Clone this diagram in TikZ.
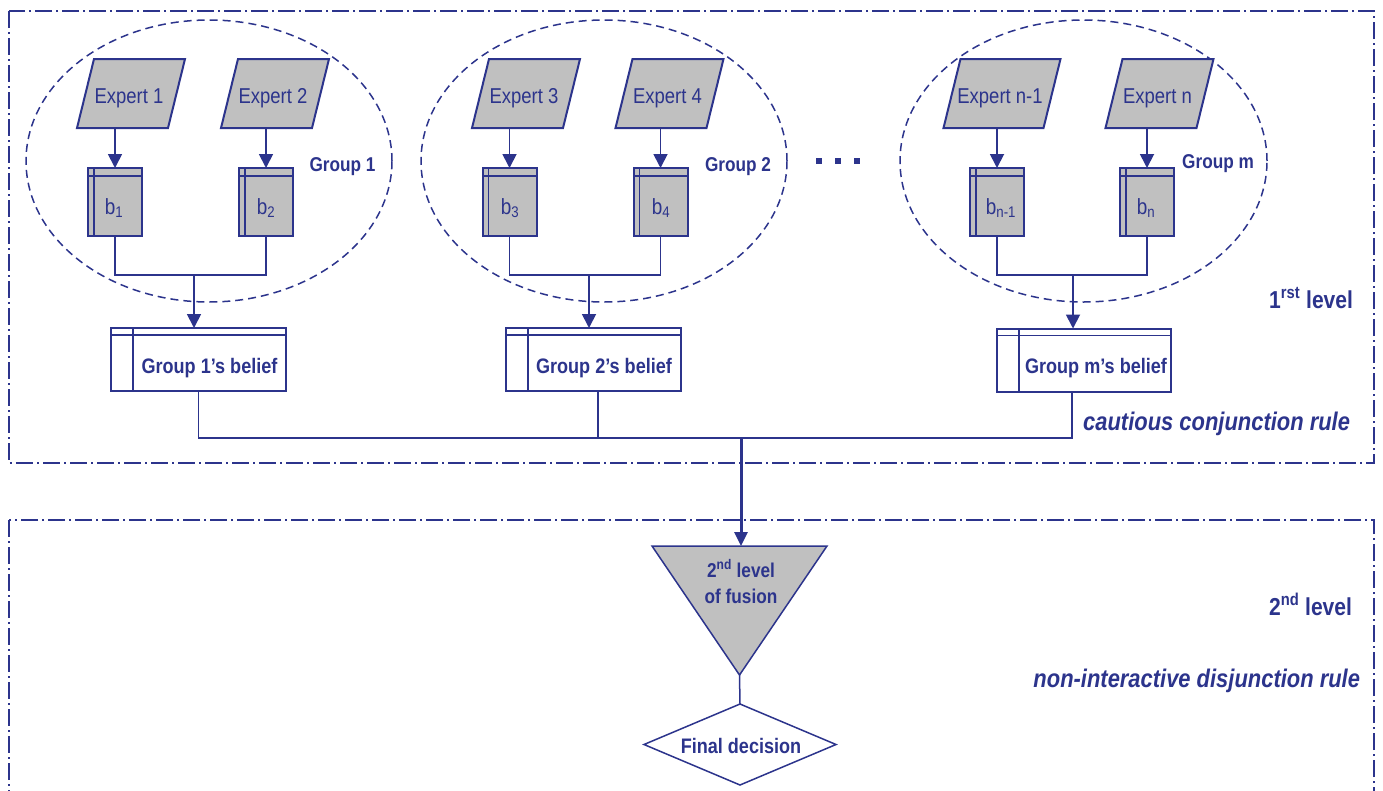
\documentclass[tikz,border=0pt]{standalone}
\usepackage{fontspec}
\setmainfont{Liberation Sans}[FakeStretch=0.86]
\usetikzlibrary{arrows.meta,calc,shapes.geometric}
\definecolor{nv}{RGB}{44,52,140}
\definecolor{gf}{RGB}{192,192,192}
\begin{document}
\begin{tikzpicture}[x=1pt,y=-1pt,
  every node/.style={inner sep=0pt,outer sep=0pt},
  ln/.style={draw=nv,line width=1.8pt},
  arr/.style={ln,-{Triangle[length=14pt,width=14pt]}},
  frame/.style={draw=nv,line width=1.5pt,dash pattern=on 17pt off 4pt on 2pt off 4pt},
  grp/.style={draw=nv,line width=1.5pt,dash pattern=on 8pt off 5pt,ellipse,minimum width=366pt,minimum height=282pt},
  expbox/.style={minimum width=#1,minimum height=69pt},
  expfill/.style={fill=gf,draw=nv,line width=2pt},
  bbox/.style={draw=nv,fill=gf,line width=2pt,minimum width=54pt,minimum height=68pt,
    path picture={\draw[nv,line width=1.2pt] ([xshift=6pt]path picture bounding box.north west) -- ([xshift=6pt]path picture bounding box.south west);
                  \draw[nv,line width=1.2pt] ([yshift=-8pt]path picture bounding box.north west) -- ([yshift=-8pt]path picture bounding box.north east);}},
  belbox/.style={draw=nv,fill=white,line width=2pt,minimum width=175pt,minimum height=63pt,
    path picture={\draw[nv,line width=1.5pt] ([xshift=22pt]path picture bounding box.north west) -- ([xshift=22pt]path picture bounding box.south west);
                  \draw[nv,line width=1.5pt] ([yshift=-7pt]path picture bounding box.north west) -- ([yshift=-7pt]path picture bounding box.north east);}},
  txt/.style={text=nv,font=\fontsize{21.5}{24}\selectfont},
  btxt/.style={text=nv,font=\fontsize{22}{24}\selectfont},
  gtxt/.style={text=nv,font=\fontsize{20}{24}\selectfont\bfseries},
  beltxt/.style={text=nv,font=\fontsize{21}{24}\selectfont\bfseries},
  lvltxt/.style={text=nv,font=\fontsize{24.5}{28}\selectfont\bfseries},
  ruletxt/.style={text=nv,font=\fontsize{25.5}{30}\selectfont\bfseries\itshape}]
\useasboundingbox (0,0) rectangle (1383,790);
\clip (0,0) rectangle (1383,790);

% frames
\draw[frame] (9,11) rectangle (1374,463);
\draw[frame] (9,520) rectangle (1374,830);

% group ellipses
\node[grp] (G1) at (209,161) {};
\node[grp] (G2) at (604,161) {};
\node[grp,minimum width=367pt] (Gm) at (1083.5,161) {};

% experts
\foreach \n/\x/\w/\t in {e1/131/91/Expert 1,e2/275/91/Expert 2,e3/526/91/Expert 3,e4/669.5/91/Expert 4,en1/1002/100/Expert n-1,en/1159.5/91/Expert n}{
  \node[expbox=\w pt] (\n) at (\x,93.5) {};
  \filldraw[expfill] ([xshift=8.5pt]\n.north west) -- ([xshift=8.5pt]\n.north east) -- ([xshift=-8.5pt]\n.south east) -- ([xshift=-8.5pt]\n.south west) -- cycle;
  \node[txt,anchor=base] at (\x-2,103) {\t};
}

% belief boxes b
\node[bbox] (b1) at (115,202) {};
\node[bbox] (b2) at (266,202) {};
\node[bbox] (b3) at (509.5,202) {};
\node[bbox] (b4) at (660.5,202) {};
\node[bbox] (bn1) at (997,202) {};
\node[bbox] (bn) at (1147,202) {};
\node[btxt,anchor=base] at (114,214) {b\textsubscript{1}};
\node[btxt,anchor=base] at (266,214) {b\textsubscript{2}};
\node[btxt,anchor=base] at (510,214) {b\textsubscript{3}};
\node[btxt,anchor=base] at (661,214) {b\textsubscript{4}};
\node[btxt,anchor=base] at (1001,214) {b\textsubscript{n-1}};
\node[btxt,anchor=base] at (1146,214) {b\textsubscript{n}};

% expert -> b arrows
\draw[arr] (e1.south -| b1.north) -- (b1.north);
\draw[arr] (e2.south -| b2.north) -- (b2.north);
\draw[arr] (e3.south -| b3.north) -- (b3.north);
\draw[arr] (e4.south -| b4.north) -- (b4.north);
\draw[arr] (en1.south -| bn1.north) -- (bn1.north);
\draw[arr] (en.south -| bn.north) -- (bn.north);

% group labels
\node[gtxt,anchor=base] at (342.5,171) {Group 1};
\node[gtxt,anchor=base] at (738,171) {Group 2};
\node[gtxt,anchor=base] at (1218,168) {Group m};

% dots
\foreach \x in {819,838,857}{\fill[nv] (\x-3,158) rectangle (\x+3,164);}

% group belief boxes
\node[belbox] (g1) at (198.5,359.5) {};
\node[belbox] (g2) at (593.5,359.5) {};
\node[belbox,minimum width=174pt] (gm) at (1084,360) {};
\node[beltxt,anchor=base] at (209.5,373) {Group 1’s belief};
\node[beltxt,anchor=base] at (604,373) {Group 2’s belief};
\node[beltxt,anchor=base] at (1096,373) {Group m’s belief};

% b -> group junctions
\coordinate (j1) at (194,275);
\coordinate (j2) at (589,275);
\coordinate (jm) at (1073,275);
\draw[ln] (b1.south) |- (j1) -| (b2.south);
\draw[ln] (b3.south) |- (j2) -| (b4.south);
\draw[ln] (bn1.south) |- (jm) -| (bn.south);
\draw[arr] (j1) -- (j1 |- g1.north);
\draw[arr] (j2) -- (j2 |- g2.north);
\draw[arr] (jm) -- (jm |- gm.north);

% bus
\coordinate (bus) at (741,438);
\draw[ln] (g1.south) |- (bus) -| ([xshift=-12pt]gm.south);
\draw[ln] ([xshift=4.5pt]g2.south) -- ([xshift=4.5pt]g2.south |- bus);

% second level
\node[minimum width=175pt,minimum height=129pt] (tri) at (739.5,610.5) {};
\filldraw[fill=gf,draw=nv,line width=1.5pt] (tri.north west) -- (tri.north east) -- (tri.south) -- cycle;
\node[gtxt,anchor=base] at (741,577) {2\textsuperscript{nd} level};
\node[gtxt,anchor=base] at (741,603) {of fusion};
\draw[ln,line width=3pt,-{Triangle[length=14pt,width=13pt]}] (bus) -- (bus |- tri.north);

\node[minimum width=192pt,minimum height=81pt] (dec) at (740,744.5) {};
\draw[ln,line width=1.5pt,fill=white] (dec.west) -- (dec.north) -- (dec.east) -- (dec.south) -- cycle;
\node[beltxt,anchor=base] at (741,753) {Final decision};
\draw[ln,line width=1.5pt] (tri.south) -- (dec.north);

% level labels
\node[lvltxt,anchor=base east] at (1353,308) {1\textsuperscript{rst} level};
\node[ruletxt,anchor=base east] at (1350,430) {cautious conjunction rule};
\node[lvltxt,anchor=base east] at (1352,615) {2\textsuperscript{nd} level};
\node[ruletxt,anchor=base east] at (1360,687) {non-interactive disjunction rule};
\end{tikzpicture}
\end{document}
